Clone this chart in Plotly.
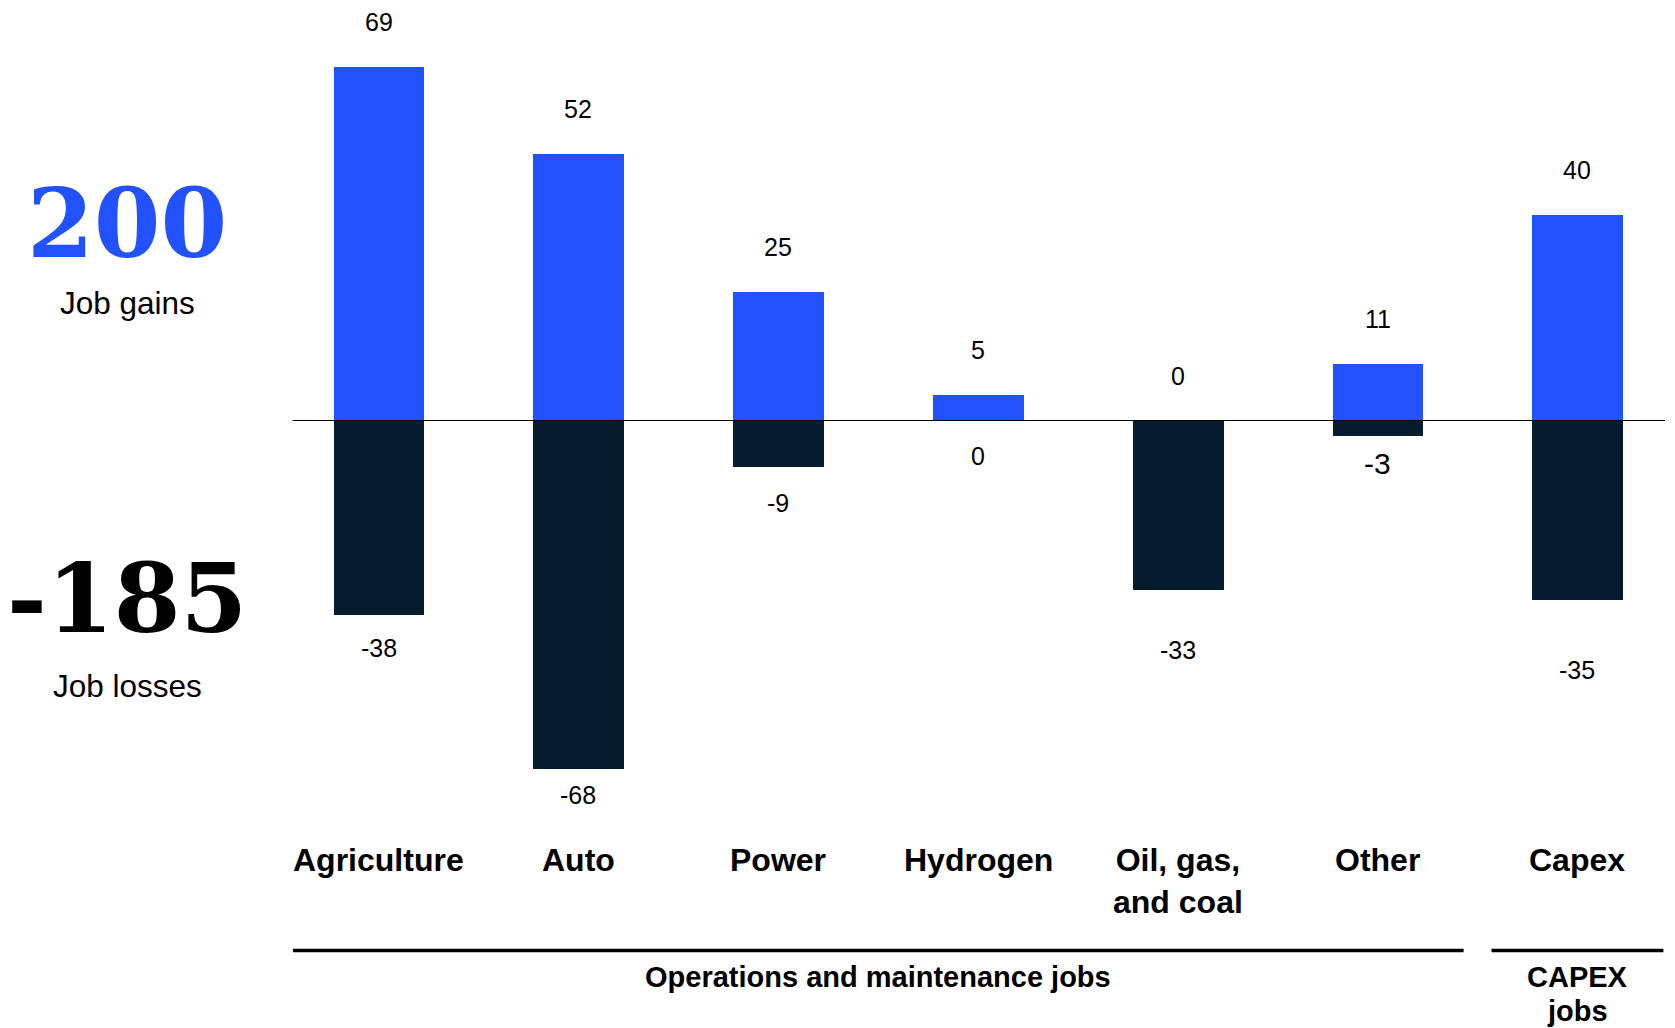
import plotly.graph_objects as go

# Job gains and losses by sector (thousands of jobs)
categories = ["Agriculture", "Auto", "Power", "Hydrogen", "Oil, gas,<br>and coal", "Other", "Capex"]
gains = [69, 52, 25, 5, 0, 11, 40]
losses = [-38, -68, -9, 0, -33, -3, -35]
total_gains = "200"
total_losses = "-185"

# Category groups drawn as brackets under the axis: (label lines, first index, last index)
groups = [(["Operations and maintenance jobs"], 0, 5), (["CAPEX", "jobs"], 6, 6)]

BLUE = "#2251FF"
NAVY = "#051C2C"
SANS = "Liberation Sans, Arial, sans-serif"
SERIF = "DejaVu Serif, Georgia, serif"

W, H = 1675, 1028

# pixel offsets of the value labels from the bar ends
gain_label_gap = [45, 45, 45, 45, 45, 45, 45]
loss_label_gap = [33, 26, 36, 35, 60, 28, 70]
loss_label_size = [25, 25, 25, 25, 25, 30, 25]

fig = go.Figure()
fig.add_trace(go.Bar(x=categories, y=gains, marker_color=BLUE, width=0.454,
                     marker_line_width=0, name="Job gains", showlegend=False))
fig.add_trace(go.Bar(x=categories, y=losses, marker_color=NAVY, width=0.454,
                     marker_line_width=0, name="Job losses", showlegend=False))


def py(px):
    """paper y from a pixel distance below the top edge"""
    return 1 - px / H


annotations = []
for i, c in enumerate(categories):
    annotations.append(dict(x=c, y=gains[i], xref="x", yref="y", text=str(gains[i]),
                            showarrow=False, xanchor="center", yanchor="middle",
                            yshift=gain_label_gap[i],
                            font=dict(family=SANS, size=25, color="#000")))
    annotations.append(dict(x=c, y=losses[i], xref="x", yref="y", text=str(losses[i]),
                            showarrow=False, xanchor="center", yanchor="middle",
                            yshift=-loss_label_gap[i],
                            font=dict(family=SANS, size=loss_label_size[i], color="#000")))
    # category name under the chart
    annotations.append(dict(x=c, y=py(840), xref="x", yref="paper", text=f"<b>{c}</b>",
                            showarrow=False, xanchor="center", yanchor="top", align="center",
                            font=dict(family=SANS, size=32, color="#000")))

shapes = [dict(type="line", xref="x domain", yref="y", x0=0, x1=1, y0=0, y1=0,
               line=dict(color="#000", width=1.2), layer="above")]

for lines, a, b in groups:
    shapes.append(dict(type="line", xref="x", yref="paper", x0=a - 0.43, x1=b + 0.43,
                       y0=py(950.5), y1=py(950.5), line=dict(color="#000", width=3.5)))
    for k, line in enumerate(lines):
        annotations.append(dict(x=(a + b) / 2, y=py(977 + 34 * k), xref="x", yref="paper",
                                text=f"<b>{line}</b>", showarrow=False,
                                xanchor="center", yanchor="middle",
                                font=dict(family=SANS, size=29, color="#000")))

# headline totals on the left
annotations += [
    dict(x=127.5 / W, y=py(223), xref="paper", yref="paper", text=f"<b>{total_gains}</b>",
         showarrow=False, xanchor="center", yanchor="middle",
         font=dict(family=SERIF, size=96, color=BLUE)),
    dict(x=127.5 / W, y=py(303), xref="paper", yref="paper", text="Job gains",
         showarrow=False, xanchor="center", yanchor="middle",
         font=dict(family=SANS, size=31.5, color="#000")),
    dict(x=127.5 / W, y=py(598), xref="paper", yref="paper", text=f"<b>{total_losses}</b>",
         showarrow=False, xanchor="center", yanchor="middle",
         font=dict(family=SERIF, size=96, color="#000")),
    dict(x=127.5 / W, y=py(686), xref="paper", yref="paper", text="Job losses",
         showarrow=False, xanchor="center", yanchor="middle",
         font=dict(family=SANS, size=31.5, color="#000")),
]

fig.update_layout(
    width=W, height=H,
    margin=dict(l=0, r=0, t=0, b=0),
    paper_bgcolor="white", plot_bgcolor="white",
    barmode="relative",
    bargap=0,
    xaxis=dict(domain=[292.7 / W, 1665 / W], range=[-0.4304, 6.438], type="category",
               showticklabels=False, showgrid=False, zeroline=False, showline=False, ticks=""),
    yaxis=dict(range=[-118.42, 81.97], showticklabels=False, showgrid=False,
               zeroline=False, showline=False, ticks=""),
    annotations=annotations,
    shapes=shapes,
)

fig.write_html("out.html")
